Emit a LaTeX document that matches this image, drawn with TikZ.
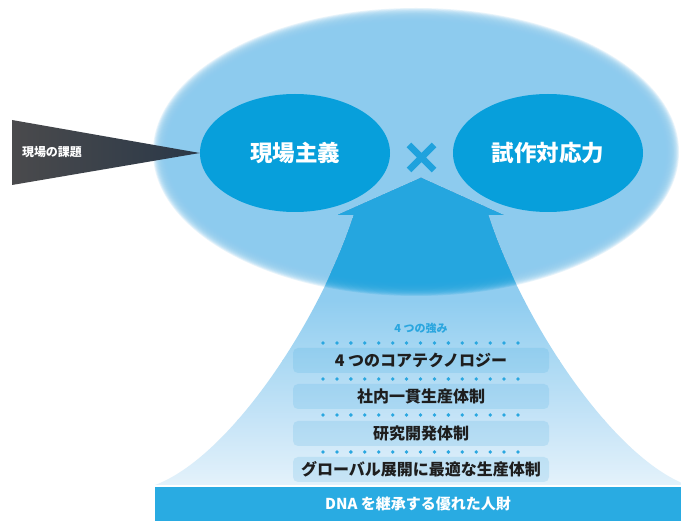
\documentclass[tikz,border=0pt]{standalone}
\usepackage{fontspec}
\setmainfont{Noto Sans CJK JP}
\usetikzlibrary{shapes.geometric}
\definecolor{glowc}{HTML}{8DCBEE}
\definecolor{glowdark}{HTML}{25A6DF}
\definecolor{ellc}{HTML}{079FDB}
\definecolor{crossc}{HTML}{1FA2DD}
\definecolor{tridark}{HTML}{4A4A4C}
\definecolor{tritip}{HTML}{2A3848}
\definecolor{barc}{HTML}{29ABE2}
\definecolor{boxc}{HTML}{2C9FDC}
\definecolor{dotc}{HTML}{2AA7E0}
\definecolor{labc}{HTML}{2AA6DF}
\definecolor{txtc}{HTML}{1E1E1E}
\definecolor{sa}{HTML}{90CDF0}
\definecolor{sb}{HTML}{ABD9F3}
\definecolor{sc}{HTML}{C6E4F7}
\definecolor{sd}{HTML}{E6F3FB}
\newcommand\softglow[1]{%
  \foreach \k in {0,...,19}{%
    \fill[#1, fill opacity=0.2] (416,152) ellipse [x radius={263-0.85*\k}, y radius={144-0.85*\k}];
  }%
  \fill[#1] (416,152) ellipse [x radius=246, y radius=127];
}
\newcommand\shaftpath{(421,178) -- (503,215) -- (488,215) .. controls (524,325) and (614,458) .. (687,485) -- (155,485) .. controls (228,458) and (318,325) .. (354,215) -- (338,215) -- cycle}
\tikzset{
  smallell/.style={ellipse, fill=ellc, minimum width=190pt, minimum height=118pt, inner sep=0pt, text=white, font=\bfseries\fontsize{22.5}{24}\selectfont},
  stepbox/.style={rectangle, rounded corners=5pt, minimum width=256pt, minimum height=25pt, inner sep=0pt, fill=boxc, fill opacity=0.15, text opacity=1, text=txtc, font=\bfseries\fontsize{16}{18}\selectfont},
  barbox/.style={rectangle, fill=barc, minimum width=526pt, minimum height=34pt, inner sep=0pt, text=white, font=\bfseries\fontsize{15}{17}\selectfont},
  dotrow/.style={fill=dotc},
  crossline/.style={draw=crossc, line width=6.5pt}
}
\begin{document}
\begin{tikzpicture}[x=1pt,y=-1pt]
\useasboundingbox (0,0) rectangle (681,521);
\fill[white] (0,0) rectangle (681,521);
% glow
\softglow{glowc}
% arrow: light gradient body, darker where it lies inside the glow
\begin{scope}
  \clip \shaftpath;
  \fill[sa] (140,170) rectangle (700,300.5);
  \shade[top color=sa, bottom color=sb] (140,300) rectangle (700,360.5);
  \shade[top color=sb, bottom color=sc] (140,360) rectangle (700,420.5);
  \shade[top color=sc, bottom color=sd] (140,420) rectangle (700,490);
  \softglow{glowdark}
\end{scope}
% ellipses
\node[smallell] (genba) at (295,153) {現場主義};
\node[smallell] (shisaku) at (548,153) {試作対応力};
% triangle
\shade[left color=tridark, right color=tritip] (12,120) -- (genba.west) -- (12,185) -- cycle;
\node[font=\bfseries\fontsize{12}{12}\selectfont, text=white] (kadai) at (52,152) {現場の課題};
% cross
\draw[crossline] (409,145) -- (434,170) (434,145) -- (409,170);
% label
\node[font=\bfseries\fontsize{11}{12}\selectfont, text=labc] (tsuyomi) at (421,328) {4 つの強み};
% dots
\foreach \y in {343,379,415,452}{
  \foreach \i in {0,...,14}{
    \fill[dotrow] ({323+\i*13.93},\y) circle (1.9);
  }
}
% boxes
\node[stepbox] (b1) at (421,360.5) {4 つのコアテクノロジー};
\node[stepbox] (b2) at (421,396.5) {社内一貫生産体制};
\node[stepbox] (b3) at (421,433.5) {研究開発体制};
\node[stepbox] (b4) at (421,469.5) {グローバル展開に最適な生産体制};
% bar
\node[barbox] (dna) at (418,504) {DNA を継承する優れた人財};
\end{tikzpicture}
\end{document}
